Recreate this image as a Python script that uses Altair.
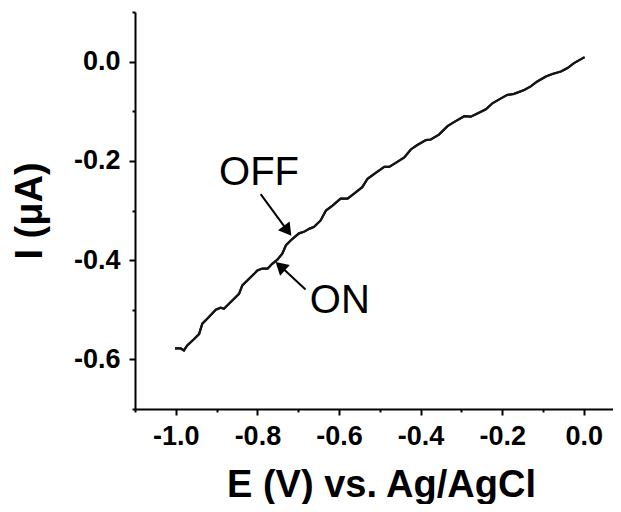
import altair as alt
import pandas as pd

# ---- data ----
E = [-1.002, -0.988, -0.980, -0.972, -0.955, -0.943, -0.935, -0.923, -0.902, -0.890,
     -0.882, -0.861, -0.845, -0.837, -0.816, -0.800, -0.788, -0.775, -0.763, -0.751,
     -0.739, -0.730, -0.714, -0.698, -0.686, -0.673, -0.661, -0.645, -0.632, -0.616,
     -0.596, -0.579, -0.563, -0.543, -0.530, -0.510, -0.489, -0.477, -0.461, -0.440,
     -0.424, -0.408, -0.387, -0.375, -0.355, -0.334, -0.314, -0.293, -0.277, -0.257,
     -0.240, -0.224, -0.203, -0.187, -0.171, -0.146, -0.130, -0.114, -0.093, -0.077,
     -0.056, -0.040, -0.024, 0.002]
I = [-0.578, -0.578, -0.582, -0.572, -0.559, -0.549, -0.528, -0.518, -0.500, -0.496,
     -0.498, -0.481, -0.468, -0.451, -0.434, -0.421, -0.417, -0.417, -0.407, -0.399,
     -0.387, -0.370, -0.357, -0.346, -0.343, -0.337, -0.333, -0.320, -0.300, -0.290,
     -0.276, -0.276, -0.266, -0.253, -0.236, -0.224, -0.212, -0.212, -0.204, -0.193,
     -0.177, -0.168, -0.158, -0.157, -0.147, -0.130, -0.120, -0.110, -0.111, -0.103,
     -0.096, -0.084, -0.074, -0.067, -0.065, -0.057, -0.050, -0.040, -0.030, -0.025,
     -0.020, -0.013, -0.003, 0.009]

x_major = [-1.0, -0.8, -0.6, -0.4, -0.2, 0.0]
x_minor = [-1.1, -0.9, -0.7, -0.5, -0.3, -0.1]
y_major = [0.0, -0.2, -0.4, -0.6]
y_minor = [0.1, -0.1, -0.3, -0.5, -0.7]

label_text = ["OFF", "ON"]
label_E = [-0.796, -0.598]
label_I = [-0.225, -0.482]

arrow_E0 = [-0.792, -0.682]
arrow_I0 = [-0.267, -0.459]
arrow_E1 = [-0.726, -0.744]
arrow_I1 = [-0.341, -0.412]
head_angle = [53, 222]

x_title = "E (V) vs. Ag/AgCl"
y_title = "I (\u03bcA)"

curve = pd.DataFrame({"E": E, "I": I})
labels = pd.DataFrame({"E": label_E, "I": label_I, "t": label_text})
arrows = pd.DataFrame({"E0": arrow_E0, "I0": arrow_I0, "E1": arrow_E1, "I1": arrow_I1,
                       "ang": head_angle})

FONT = "Liberation Sans"
xs = alt.Scale(domain=[-1.1, 0.0716], nice=False, zero=False)
ys = alt.Scale(domain=[-0.7, 0.1], nice=False, zero=False)
lab = "replace(format(datum.value, '.1f'), '\u2212', '-')"

common = dict(domainColor="black", domainWidth=2, tickColor="black", tickWidth=2,
              grid=False, labelFont=FONT, labelFontWeight="bold", labelFontSize=27,
              labelColor="black", titleFont=FONT, titleFontWeight="bold",
              titleFontSize=38, titleColor="black")

x_axis_major = alt.Axis(values=x_major, labelExpr=lab, tickSize=6, labelPadding=8,
                        title=x_title, titlePadding=17, titleX=246, orient="bottom",
                        labelFlush=False, **common)
y_axis_major = alt.Axis(values=y_major, labelExpr=lab, tickSize=6, labelPadding=9,
                        title=y_title, titlePadding=24, orient="left", **common)
x_axis_minor = alt.Axis(values=x_minor, labels=False, tickSize=3, title=None,
                        domain=False, orient="bottom", tickColor="black", tickWidth=2,
                        grid=False)
y_axis_minor = alt.Axis(values=y_minor, labels=False, tickSize=3, title=None,
                        domain=False, orient="left", tickColor="black", tickWidth=2,
                        grid=False)

line = alt.Chart(curve).mark_line(color="#151515", strokeWidth=2.2).encode(
    x=alt.X("E:Q", scale=xs, axis=x_axis_major),
    y=alt.Y("I:Q", scale=ys, axis=y_axis_major),
)

line_minor = alt.Chart(curve).mark_line(color="#151515", strokeWidth=2.2).encode(
    x=alt.X("E:Q", scale=xs, axis=x_axis_minor),
    y=alt.Y("I:Q", scale=ys, axis=y_axis_minor),
)

text = alt.Chart(labels).mark_text(font=FONT, fontSize=40, color="black",
                                   align="center", baseline="middle").encode(
    x=alt.X("E:Q", scale=xs, axis=None), y=alt.Y("I:Q", scale=ys, axis=None), text="t:N")

shafts = alt.Chart(arrows).mark_rule(color="black", strokeWidth=2).encode(
    x=alt.X("E0:Q", scale=xs, axis=None), y=alt.Y("I0:Q", scale=ys, axis=None),
    x2="E1:Q", y2="I1:Q")

heads = alt.Chart(arrows).mark_point(shape="triangle-right", filled=True, color="black",
                                     size=210, opacity=1).encode(
    x=alt.X("E1:Q", scale=xs, axis=None), y=alt.Y("I1:Q", scale=ys, axis=None),
    angle=alt.Angle("ang:Q", scale=None))

chart = alt.layer(line, line_minor, shafts, heads, text).resolve_axis(
    x="independent", y="independent"
).properties(
    width=478, height=397,
    autosize=alt.AutoSizeParams(type="none"),
    padding={"left": 127, "top": 4, "right": 0, "bottom": 95},
).configure(background="white").configure_view(stroke=None)

chart.save("out.html", embed_options={"renderer": "svg", "actions": False})
